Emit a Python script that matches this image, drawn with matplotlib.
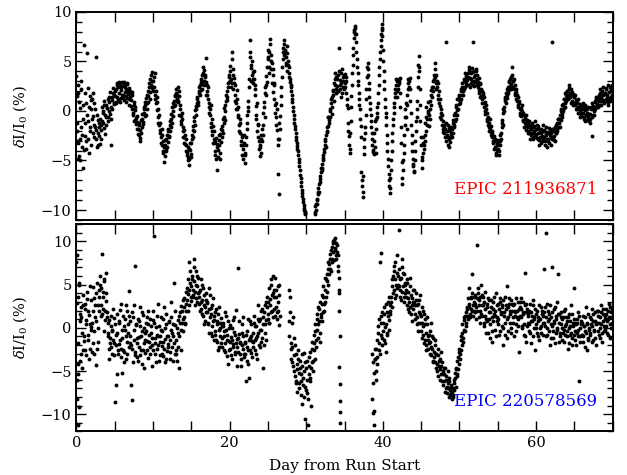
"""
K2 light curves - EPIC 211936871 / EPIC 220578569
"""

import numpy as np
import matplotlib
matplotlib.use('Agg')
import matplotlib.pyplot as plt
from matplotlib.ticker import MultipleLocator

# ══════════════════════════════════════════════
# 1. DATA  (one row = one day, 10 samples at 0.1 d;
#           the "b" rows sit 0.05 d later)
# ══════════════════════════════════════════════

N = None

top_rows = [
    [3.5, -1.2, 1.8, -4.5, 0.3, -2.8, 2.2, -3.6, -0.8, -5.8],
    [6.7, -2.5, 0.8, -3.8, 5.8, -1.0, -4.2, 1.5, -2.0, 0.2],
    [1.2, -0.5, -2.2, 0.8, -1.6, 5.4, -2.8, -0.4, -3.4, -1.2],
    [-2.5, -0.8, -1.9, 0.4, -1.2, -0.2, 1.0, -2.3, 0.6, -0.6],
    [0.3, -1.0, 0.9, 1.4, -0.3, -3.4, 1.1, 0.2, 1.8, 0.7],
    [1.5, 2.2, 0.8, 2.6, 1.2, 2.9, 1.8, 0.9, 2.4, 1.6],
    [2.5, 1.4, 2.9, 1.9, 2.2, 0.9, 2.7, 1.7, 2.3, 1.2],
    [2.0, 1.1, 0.2, 1.6, -0.4, 0.6, -0.9, 0.1, -1.3, -0.5],
    [-1.8, -2.4, -1.2, -2.7, -0.9, -1.6, -0.3, -1.1, 0.4, -0.5],
    [0.6, 1.3, 0.2, 2.0, 1.5, 2.8, 1.9, 3.6, 2.3, 3.9],
    [3.0, 2.4, 3.8, 1.6, 0.8, 1.4, -0.6, 0.2, -1.4, -1.9],
    [-2.6, -1.8, -3.4, -4.2, -3.6, -4.5, -2.9, -3.8, -2.4, -3.1],
    [-1.8, -2.5, -1.0, -1.6, -0.3, 0.4, -0.5, 1.0, 0.6, 1.5],
    [1.8, 1.2, 2.4, 0.9, 1.5, 0.2, -0.5, -1.3, -0.8, -2.0],
    [-2.6, -1.9, -3.3, -2.8, -4.1, -3.6, -4.6, -5.5, -3.9, -4.3],
    [-3.2, -2.4, -1.5, -2.0, -0.6, 0.1, -0.4, 0.8, 1.4, 0.9],
    [1.8, 2.6, 2.1, 3.2, 2.7, 3.8, 3.0, 4.1, 3.4, 5.3],
    [2.6, 2.0, 1.2, 0.4, -0.4, 0.6, -1.2, -2.0, -1.5, -2.8],
    [-3.2, -4.4, -2.7, -3.6, -6.0, -3.9, -2.9, -4.2, -2.3, -3.1],
    [-1.5, -2.2, -0.6, 0.3, -0.9, 1.0, 2.0, 1.4, 2.8, 3.4],
    [3.0, 4.5, 2.4, 5.9, 3.6, 2.2, 3.3, 1.6, 0.8, 2.1],
    [0.2, -0.6, -1.4, -0.8, -2.2, -3.0, -2.4, -3.8, -4.8, -3.2],
    [-5.3, -3.4, -1.8, -0.4, 1.0, 2.4, 7.2, 6.0, 4.3, 3.6],
    [3.9, 2.8, 3.2, 1.6, 0.5, -0.8, -2.0, -1.3, -3.0, -4.5],
    [-3.6, -2.4, -3.0, -1.4, -0.2, 0.9, 1.8, 2.6, 3.5, 4.4],
    [5.2, 6.0, 3.8, 7.3, 5.6, 4.8, 3.6, 1.9, 2.8, 0.6],
    [-0.6, 0.8, -1.9, -6.4, -8.4, -2.8, -0.5, 1.5, 3.4, 5.2],
    [6.4, 7.2, 6.0, 5.4, 4.8, 6.6, 5.0, 3.8, 4.4, 2.9],
    [2.4, 1.6, 0.9, 0.0, -0.8, -1.5, -2.2, -2.9, -3.5, -4.0],
    [-4.8, -5.6, -6.5, -7.2, -8.0, -8.6, -9.2, -9.8, -10.2, -10.4],
    [N, N, N, N, N, N, N, N, N, N],
    [N, -10.2, -9.6, -10.0, -8.9, -8.4, -7.8, -8.2, -6.9, -6.2],
    [-5.4, -6.0, -4.7, -4.1, -3.4, -2.8, -3.6, -2.1, -1.5, -0.6],
    [-0.9, 0.2, 0.8, -0.3, 1.4, 2.1, 1.0, 2.6, 3.2, 1.8],
    [2.5, 3.6, 2.0, 6.4, 3.1, 1.4, 2.8, 4.2, 3.4, 2.2],
    [3.7, 2.4, 3.0, 1.2, 0.3, -1.2, -2.5, -3.8, -1.0, 1.5],
    [3.8, 5.6, 7.4, 8.2, 8.6, 7.0, 5.2, 3.8, 2.6, 1.2],
    [0.2, -1.5, -6.2, -7.6, -8.7, -2.8, -4.3, -1.6, 1.2, 3.4],
    [4.8, 3.6, 2.2, 0.8, -0.4, -1.6, -2.8, -3.9, -4.3, -2.2],
    [-3.6, -1.8, 0.4, -0.6, 1.8, 3.6, 5.2, 6.6, 7.8, 8.8],
    [6.2, 4.0, 2.2, 0.4, -0.6, -2.4, -4.0, -5.6, -7.0, -8.3],
    [-6.8, -5.0, -3.0, -1.4, -0.2, 0.8, 1.8, 2.6, 1.4, 3.0],
    [2.2, 3.2, 3.3, 0.4, -3.2, -7.4, -6.0, -4.2, -2.4, -0.6],
    [0.8, -1.8, 1.6, 2.8, 3.0, 3.3, 1.0, -1.4, -3.2, -4.8],
    [-5.6, -6.1, -4.0, -2.0, 0.2, 1.0, 3.4, 5.5, 2.2, -1.0],
    [-3.4, -5.8, -4.2, -2.6, -3.8, -1.2, -2.0, 0.4, -0.8, 0.9],
    [-1.5, 0.2, 1.0, 2.1, 1.4, 3.0, 2.4, 3.6, 4.8, 2.8],
    [3.6, 2.4, 1.2, 2.0, 0.5, -0.6, 0.2, -1.4, -1.0, -2.1],
    [-1.6, -2.6, -1.2, 7.0, -2.0, -3.4, -2.8, -1.7, -3.1, -2.3],
    [-1.8, -2.2, -0.9, -1.4, -0.2, -0.8, 0.6, 0.1, 1.2, 0.7],
    [1.5, 1.0, 2.2, 1.6, 2.8, 2.0, 3.2, 2.4, 3.5, 2.6],
    [3.1, 3.8, 2.6, 4.1, 3.3, 2.8, 3.9, 3.0, 7.0, 2.5],
    [3.6, 2.9, 4.0, 3.2, 2.4, 3.3, 2.1, 2.7, 1.5, 2.0],
    [1.2, 1.8, 0.4, 0.9, -0.3, 0.2, -1.0, -0.6, -1.6, -1.2],
    [-2.0, -1.5, -2.6, -2.2, -3.0, -2.5, -3.6, -2.8, -4.2, -3.3],
    [-3.8, -2.9, -4.4, -3.0, -2.2, -1.6, -0.9, -0.2, 0.4, 1.0],
    [1.2, 1.8, 1.3, 2.4, 2.0, 2.9, 2.5, 3.4, 2.7, 4.4],
    [3.0, 2.2, 2.6, 1.6, 1.9, 1.0, 1.4, 0.4, 0.8, -0.2],
    [0.3, -0.5, 0.0, -0.9, -0.4, -1.2, -0.7, -1.5, -0.9, -1.6],
    [-1.3, -2.0, -1.5, -2.4, -1.8, -1.2, -2.6, -2.0, -1.5, -2.3],
    [-1.8, -2.7, -2.2, -1.5, -2.9, -2.1, -3.2, -1.8, -2.5, -2.0],
    [-2.6, -1.9, -3.0, -2.3, -3.6, -2.1, -2.8, -1.7, -2.4, -3.4],
    [-2.2, 7.0, -1.8, -2.9, -2.5, -1.6, -2.2, -1.2, -1.8, -0.8],
    [-1.2, -0.4, -0.9, 0.2, -0.3, 0.7, 0.3, 1.2, 0.8, 1.6],
    [1.3, 2.0, 1.6, 2.3, 1.8, 1.4, 2.2, 1.0, 1.7, 0.8],
    [1.4, 0.6, 1.1, 0.2, 0.9, 0.4, -0.2, 0.7, 0.1, -0.5],
    [0.5, -0.2, 0.3, -0.8, 0.1, -0.4, -0.9, 0.2, -0.6, -0.3],
    [-0.3, -0.8, 0.2, -2.5, -0.4, 0.5, 0.0, 0.9, 0.4, 1.2],
    [0.7, 1.4, 1.0, 1.8, 0.6, 1.3, 2.0, 1.1, 1.6, 0.9],
    [1.8, 1.2, 2.3, 1.5, 0.9, 1.9, 2.4, 1.3, 2.0, 1.6],
]

top_rows_b = [
    [-2.0, 2.6, -3.2, 0.9, -5.0, -1.6, 3.0, -2.4, 0.6, -3.9],
    [-1.2, 1.8, -3.0, -0.4, 2.3, -2.8, 0.4, -1.6, 1.1, -3.4],
    [-0.8, 1.8, -1.4, -2.6, 0.2, -1.9, -3.6, -0.9, -2.2, -1.6],
    [-3.3, -1.4, -2.8, -1.0, 0.0, -1.7, 0.6, -0.4, -1.4, 0.3],
    [-0.6, 1.2, 0.0, 1.9, 0.4, -0.8, 1.4, 2.3, 0.8, 1.6],
    [2.0, 0.9, 2.8, 1.4, 2.4, 1.0, 2.6, 2.1, 1.3, 2.9],
    [1.6, 2.6, 1.1, 2.4, 1.5, 2.8, 1.3, 2.0, 0.6, 1.8],
    [1.4, 0.5, 1.9, -0.2, 0.9, -1.0, 0.4, -0.7, -1.8, -1.1],
    [-2.3, -1.4, -3.0, -1.9, -2.2, -0.8, -1.3, 0.2, -0.2, 0.9],
    [-0.4, 0.8, 1.6, 0.9, 2.4, 1.2, 3.2, 2.6, 3.0, 2.0],
    [2.4, 3.4, 1.2, 2.0, 0.1, 0.9, -1.2, -0.4, -2.2, -1.2],
    [-3.2, -2.4, -4.0, -3.0, -5.2, -3.4, -4.0, -2.8, -3.6, -2.0],
    [-2.6, -1.4, -2.0, -0.8, -1.2, 0.8, 0.0, 0.5, 1.6, 1.0],
    [2.2, 1.6, 1.0, 2.0, -0.4, 0.6, -1.0, -0.2, -1.6, -2.6],
    [-3.2, -2.4, -4.0, -3.4, -4.4, -5.0, -3.8, -4.8, -3.2, -4.6],
    [-2.8, -1.9, -2.6, -1.0, -1.4, 0.5, 0.2, 1.2, 0.6, 2.0],
    [2.4, 1.6, 2.9, 3.6, 2.2, 4.4, 2.6, 3.6, 2.9, 1.6],
    [1.6, 2.4, 0.8, -0.2, 0.2, -1.6, -0.8, -2.4, -3.2, -2.0],
    [-4.0, -3.0, -4.8, -3.3, -4.6, -2.4, -3.4, -4.8, -1.8, -2.6],
    [-1.9, -0.8, -1.2, 0.6, 0.0, 1.6, 1.1, 2.4, 3.6, 2.9],
    [4.0, 3.2, 5.2, 2.8, 4.2, 2.8, 1.0, 2.6, 0.2, 1.2],
    [-0.4, 0.4, -2.0, -1.2, -3.4, -2.6, -4.4, -3.4, -2.4, -4.2],
    [-4.4, -2.6, -1.2, 0.4, 0.0, 3.2, 5.4, 4.6, 3.0, 5.0],
    [3.2, 4.0, 2.2, 2.6, -0.4, 0.8, -1.4, -2.6, -3.8, -3.4],
    [-4.2, -2.8, -1.8, -2.4, 0.4, -0.6, 2.4, 1.6, 2.9, 5.4],
    [6.2, 4.4, 6.8, 4.2, 5.0, 2.8, 4.2, 2.6, 1.2, -0.2],
    [-1.4, 0.2, -2.8, -3.4, -1.2, -1.8, 0.6, 2.4, 4.4, 6.0],
    [6.8, 5.6, 6.2, 4.6, 5.8, 4.0, 4.6, 3.4, 3.2, 2.6],
    [2.0, 1.2, 0.4, -0.4, -1.2, -1.8, -2.6, -3.2, -3.8, -4.4],
    [-5.2, -6.0, -6.8, -7.6, -8.3, -8.9, -9.5, -10.0, -10.3, N],
    [N, N, N, N, N, N, N, N, N, N],
    [N, -10.4, -9.4, -9.0, -9.4, -8.2, -7.4, -7.2, -6.6, -5.8],
    [-5.8, -5.0, -4.4, -3.8, -3.0, -2.4, -2.0, -1.6, -0.6, -1.2],
    [0.0, -0.6, 1.2, 0.4, 2.0, 1.6, 2.8, 3.8, 2.2, 3.4],
    [3.2, 2.0, 4.0, 2.6, 2.2, 3.8, 1.8, 3.0, 2.4, 3.6],
    [2.8, 3.4, 1.8, 0.6, -2.0, -3.4, -4.2, -2.2, 0.4, 2.6],
    [4.6, 6.4, 8.0, 8.4, 7.8, 6.0, 4.4, 3.0, 1.8, 0.6],
    [-0.8, -2.6, -7.0, -8.2, -6.6, -3.6, -2.2, -0.4, 2.2, 4.4],
    [4.2, 2.8, 1.4, 0.2, -1.0, -2.2, -3.4, -4.1, -3.0, -1.0],
    [-4.2, -0.8, -0.2, 0.8, 2.6, 4.4, 6.0, 7.2, 8.4, 7.6],
    [5.0, 3.0, 1.2, -0.2, -1.4, -3.2, -4.8, -6.4, -7.6, -7.8],
    [-6.0, -4.0, -2.2, -0.8, 0.4, 1.4, 2.2, 3.2, 2.0, 2.6],
    [2.8, 3.0, 1.8, -1.6, -5.2, -6.8, -5.0, -3.4, -1.4, 0.2],
    [-0.6, 0.6, 2.2, 3.2, 2.4, 2.2, -0.2, -2.4, -4.0, -5.4],
    [-6.2, -5.0, -3.0, -1.0, -0.6, 2.4, 4.6, 4.0, 0.6, -2.6],
    [-4.6, -5.0, -3.2, -3.4, -2.4, -3.0, -0.6, -1.4, 0.0, -0.2],
    [-0.4, -0.8, 1.6, 0.6, 2.4, 2.0, 3.2, 4.2, 3.4, 2.2],
    [3.0, 1.6, 2.8, 0.8, 1.2, -0.2, -0.8, -0.4, -1.8, -1.4],
    [-2.2, -1.8, -3.0, -2.4, -1.4, -2.6, -3.6, -2.0, -2.6, -1.6],
    [-2.6, -1.2, -1.6, -0.4, -1.0, 0.4, -0.4, 1.2, 0.2, 1.6],
    [0.8, 2.0, 1.2, 2.4, 1.6, 3.0, 2.2, 3.8, 2.8, 3.4],
    [2.6, 3.4, 4.4, 2.4, 3.8, 3.2, 4.3, 2.6, 3.4, 4.0],
    [3.0, 4.2, 2.6, 3.6, 2.9, 1.8, 2.8, 1.4, 2.2, 0.8],
    [1.6, 0.8, 1.4, 0.0, 0.6, -0.8, -0.2, -1.4, -2.0, -0.8],
    [-1.8, -2.4, -2.0, -3.2, -2.6, -3.8, -3.0, -4.4, -3.4, -3.9],
    [-3.2, -4.0, -3.4, -2.4, -2.8, -1.2, -1.4, 0.2, 0.0, 1.4],
    [0.8, 2.2, 1.6, 1.8, 3.0, 2.2, 3.2, 2.2, 3.6, 3.0],
    [2.4, 3.2, 1.8, 2.2, 1.2, 1.6, 0.6, 1.0, -0.4, 0.2],
    [-0.2, 0.6, -1.0, -0.2, -1.6, -0.8, -1.9, -0.4, -1.2, -2.2],
    [-2.2, -1.0, -2.8, -1.4, -2.2, -2.8, -1.6, -2.6, -1.0, -1.8],
    [-2.4, -1.4, -2.8, -3.4, -1.8, -2.6, -2.2, -3.0, -1.4, -2.8],
    [-2.0, -3.4, -2.4, -1.6, -2.8, -3.0, -2.2, -3.2, -2.0, -2.6],
    [-2.8, -1.8, -2.6, -2.0, -3.0, -2.2, -1.4, -2.0, -0.8, -1.6],
    [-0.8, -1.6, 0.0, -0.6, 0.6, 0.0, 1.2, 0.4, 1.8, 1.0],
    [2.0, 1.2, 2.6, 1.4, 2.2, 0.8, 1.6, 1.9, 0.6, 1.4],
    [0.8, 1.6, 0.2, 0.8, -0.2, 1.2, 0.4, -0.6, 0.6, -0.2],
    [0.2, 0.8, -0.6, 0.6, -1.0, 0.4, -0.2, -0.8, 0.4, -1.0],
    [-1.2, 0.4, -0.6, 0.8, 0.2, -0.4, 1.0, 0.2, 1.4, 0.6],
    [1.2, 0.4, 1.6, 2.2, 1.0, 0.6, 1.6, 2.4, 0.8, 1.8],
    [1.0, 2.2, 1.6, 0.6, 2.6, 1.2, 1.0, 2.2, 1.4, 2.6],
]

bot_rows = [
    [7.6, 2.9, -4.2, -9.2, 1.6, -3.8, 2.4, -0.6, 3.8, -2.6],
    [-1.5, 2.2, 0.4, -3.2, 3.3, -0.8, 1.5, -2.4, 4.9, 0.1],
    [-2.8, 1.9, 4.7, -0.4, 2.6, -4.3, 0.8, 5.2, -1.6, 2.0],
    [3.6, 6.0, 1.4, 8.6, 4.2, 2.2, 5.6, 0.9, 3.1, 6.4],
    [1.8, -0.6, -2.4, 0.9, -1.8, 0.2, -3.0, -0.2, -1.4, 1.1],
    [-8.6, -0.8, -6.6, -5.4, -2.6, 0.6, -1.9, 2.1, -3.4, -5.2],
    [-1.2, 1.4, -2.8, -0.3, 2.6, -3.6, -1.6, 0.4, -2.2, 4.3],
    [-0.9, -6.6, -8.3, -2.4, 1.2, -1.4, -3.1, 7.2, 0.3, -1.8],
    [-3.8, 0.8, -1.1, 2.4, -2.6, -0.4, -4.2, 1.5, -1.7, -0.6],
    [-2.9, 0.6, -1.5, -3.5, 1.9, -0.8, -2.2, 0.2, -4.4, -1.2],
    [0.9, 10.6, -1.8, -3.0, 0.1, -2.4, 2.8, -0.9, -3.8, -1.6],
    [1.3, -2.1, -0.4, -3.3, 2.4, -1.3, -4.0, 0.5, -2.7, -0.9],
    [-1.9, 0.7, -3.6, -0.2, 3.0, -2.2, -1.0, 5.2, -3.0, 0.3],
    [-1.4, -3.8, 0.9, -0.6, -4.6, 1.8, -0.2, 2.5, 0.6, 3.2],
    [1.2, 3.5, 0.4, 2.8, 4.6, 1.9, 3.9, 7.6, 5.2, 3.1],
    [4.8, 6.0, 3.6, 8.0, 5.4, 4.2, 6.6, 3.0, 4.9, 5.8],
    [3.6, 4.4, 2.2, 3.0, 5.0, 1.4, 3.8, 2.6, 0.8, 3.2],
    [1.8, 2.9, 0.5, 4.6, 1.2, -0.6, 2.3, 0.2, 3.4, -1.4],
    [0.9, -0.8, 2.2, -1.6, 0.4, 1.6, -2.2, 0.0, -0.9, 1.1],
    [-1.2, 0.6, -2.6, -0.4, -1.8, 1.4, -3.3, -0.8, -4.2, -1.5],
    [0.3, -2.4, -1.1, -3.6, 0.9, -1.9, -0.5, -2.8, 2.1, -1.3],
    [-2.2, 6.9, -0.7, -3.0, -1.6, -4.4, 0.4, -2.5, -1.0, -3.4],
    [-1.8, -6.1, -0.4, -3.8, -2.6, -5.8, -1.2, 0.8, -2.9, -1.5],
    [-0.6, -2.2, 1.4, -1.4, -3.0, 0.2, -0.9, 2.6, -2.0, -0.3],
    [1.0, -1.6, 2.2, 0.4, -4.6, 1.8, -0.6, 3.0, 0.9, 2.4],
    [1.6, 4.6, 0.6, 3.3, 5.6, 2.0, 4.0, 1.2, 3.6, 5.8],
    [2.4, 4.4, 1.0, 3.0, 0.3, 5.0, N, N, N, N],
    [N, N, N, N, N, N, N, 4.4, -1.0, 1.8],
    [-3.6, 0.6, -2.2, -4.4, -1.2, -5.6, -3.0, -6.4, -4.8, -2.6],
    [-5.2, -7.0, -3.8, -6.2, -4.4, -8.8, -5.8, -2.9, -6.8, -10.6],
    [-4.6, -7.6, -11.2, -5.4, -3.4, -6.2, -9.0, -4.0, -2.4, -5.0],
    [-1.8, -3.6, -0.4, -2.2, 1.0, -1.2, 0.4, 2.2, -0.6, 1.6],
    [2.8, 0.8, 3.6, 2.0, 4.4, 3.0, 5.6, 4.2, 6.8, 5.0],
    [7.4, 8.6, 6.6, 9.4, 8.0, 10.0, 7.8, 9.0, 10.4, 8.4],
    [9.6, 8.4, 7.2, 5.8, N, N, N, N, N, N],
    [N, N, N, N, N, N, N, N, N, N],
    [N, N, N, N, N, N, N, N, N, N],
    [N, N, N, N, N, N, N, N, N, N],
    [N, N, N, N, N, N, -8.2, -9.9, -5.2, -11.2],
    [-3.6, -6.0, -1.4, -4.2, 0.2, -2.6, 7.6, -0.8, 1.4, -2.0],
    [0.6, -1.4, 2.4, 0.1, -2.8, 1.8, -0.6, 3.0, 0.9, 2.0],
    [1.6, 3.6, 5.6, 4.0, 6.6, 7.2, 3.4, 5.0, 8.4, 4.6],
    [6.0, 11.3, 4.4, 5.6, 3.2, 7.0, 4.8, 6.2, 3.6, 5.2],
    [4.4, 2.6, 5.6, 3.4, 1.8, 4.8, 2.4, 3.8, 0.8, 3.0],
    [2.2, 4.4, 1.0, 3.2, 0.4, 2.6, -0.4, 1.8, 3.8, 0.6],
    [1.4, -1.2, 2.0, 0.2, -1.8, 1.0, -0.6, -2.6, 0.4, -1.4],
    [-0.8, -3.0, -1.6, 0.6, -2.4, -4.0, -1.2, -3.4, -2.0, -4.6],
    [-3.0, -5.0, -2.4, -4.4, -6.0, -3.6, -5.4, -4.0, -6.6, -5.0],
    [-6.2, -4.6, -7.0, -5.6, -7.6, -6.4, -8.0, -5.8, -7.2, -6.6],
    [-8.2, -7.0, -7.8, -6.4, -5.2, -6.8, -4.6, -5.6, -3.4, -4.2],
    [-2.4, -3.6, -1.0, -2.0, 0.4, -1.6, 0.9, -0.4, 1.8, 0.6],
    [2.2, 1.0, 2.8, 4.6, 1.6, 3.4, 2.0, 6.2, 2.6, 3.0],
    [1.8, 3.8, 2.4, 9.6, 4.0, 1.2, 3.2, 2.0, 5.0, 2.6],
    [1.4, 3.6, 0.6, 2.2, 4.2, 1.0, 2.8, -0.6, 1.8, 3.2],
    [0.4, 2.4, 1.2, -1.6, 3.0, 1.6, -0.2, 2.0, 4.0, 0.8],
    [2.8, 1.0, -0.8, 3.4, 1.8, 0.2, 2.4, -2.0, 1.4, 3.6],
    [0.6, 2.2, 4.8, 1.2, -0.4, 2.8, 1.6, 3.2, 0.0, 1.9],
    [2.6, -1.0, 1.4, 2.0, 0.4, 2.0, 3.0, 1.0, -2.8, 2.4],
    [1.2, 3.4, 0.2, 1.8, -0.8, 2.6, 6.3, -1.6, 2.2, 0.6],
    [1.6, -0.4, 2.8, 0.8, -1.8, 1.4, 3.2, 0.0, 1.0, -2.6],
    [0.4, 2.0, -1.0, 1.2, 1.0, 0.0, 2.4, -0.6, 1.6, 0.6],
    [6.8, 1.8, 0.2, 11.0, 2.8, -0.8, 0.8, 1.6, -2.0, 0.4],
    [1.2, 7.0, -0.4, 2.2, 0.6, -1.8, 1.4, 3.0, -0.2, 6.2],
    [1.6, -1.0, 0.4, 1.2, 1.0, -0.6, 2.0, -1.6, 0.2, 1.2],
    [-0.4, 0.8, -2.4, 1.6, -0.8, 0.2, 2.6, -1.2, 0.6, 4.6],
    [1.0, -1.4, 0.4, 0.6, -0.6, 1.8, -6.1, 0.0, -1.0, 0.8],
    [-0.8, 1.4, -1.6, 0.2, -0.4, 2.4, -2.6, 0.6, -1.2, 0.0],
    [1.2, -0.6, 0.4, 2.2, -1.4, 0.8, -0.2, 1.8, -2.0, 0.4],
    [0.6, 2.0, -0.8, 1.2, 0.0, 2.6, -1.6, 0.8, 1.6, -0.4],
    [1.4, 0.2, 2.2, -0.6, 1.0, 2.8, 0.4, -1.2, 1.8, 0.6],
]

bot_rows_b = [
    [-6.0, 3.6, -1.8, 5.2, 0.8, -3.0, 1.2, -4.6, 2.6, -1.0],
    [2.8, -2.6, 0.9, 4.2, -1.4, 2.0, -3.6, 0.4, -0.2, 3.2],
    [0.6, -1.8, 3.4, -3.0, 1.2, 4.0, -2.4, 2.6, 0.0, 4.4],
    [5.0, 2.6, 4.6, 1.6, 3.6, -0.4, 5.4, 2.0, 4.0, 1.2],
    [-1.0, 0.6, -3.6, -1.2, 1.4, -2.2, -0.4, 2.2, -1.8, -3.2],
    [0.4, -2.0, 1.6, -0.6, -3.0, 0.8, -1.4, 2.8, -2.4, -0.2],
    [-2.6, 0.2, -4.0, 1.0, -1.0, 2.0, -3.0, -0.6, 1.4, -1.8],
    [0.8, -2.0, 1.8, -4.0, -0.2, 2.6, -2.8, 0.4, -1.2, -3.4],
    [1.0, -2.2, 0.2, -3.2, -1.0, 1.8, -2.6, 0.0, -4.6, -1.4],
    [-0.4, 1.2, -2.6, 0.4, -1.6, -3.0, 1.0, -0.6, -2.0, 2.0],
    [-2.6, 0.6, -1.2, -4.0, 1.4, -0.8, -2.0, 0.2, -3.2, -1.0],
    [-0.2, -3.0, 1.0, -1.6, -2.4, 0.0, -3.6, 1.6, -1.0, -2.2],
    [0.8, -1.4, -2.8, 1.2, -0.6, -3.8, 0.4, -1.8, 2.0, -2.6],
    [-3.0, 0.0, -2.2, 1.4, -1.0, 0.6, -2.6, 2.0, -0.4, 1.0],
    [2.4, 0.6, 4.2, 2.0, 3.2, 5.6, 2.6, 4.4, 6.6, 3.6],
    [5.6, 3.8, 4.4, 7.0, 2.6, 5.0, 3.4, 6.0, 4.0, 2.8],
    [4.2, 2.0, 5.6, 1.6, 3.2, 4.6, 0.4, 2.4, 4.0, 1.8],
    [3.0, 0.6, 2.2, -0.6, 3.8, 1.6, -1.0, 2.6, 0.8, 1.4],
    [-0.4, 1.8, -1.4, 0.8, -2.6, 2.4, -0.2, 0.6, -1.8, 0.2],
    [-2.2, 0.2, -1.0, 1.8, -2.8, -0.2, -1.4, 0.8, -2.6, 0.0],
    [-1.6, -3.2, 0.0, -1.4, -2.2, 1.2, -3.0, -0.8, -1.8, -4.4],
    [-1.2, -2.8, 0.8, -1.8, -3.6, -0.6, -2.0, 1.2, -3.0, -1.6],
    [-3.0, -0.8, -2.2, 1.0, -4.2, -1.4, -2.6, 0.4, -1.0, -3.4],
    [-1.6, 0.6, -2.6, 0.2, -1.2, -3.6, 1.0, -0.6, 0.8, -2.2],
    [-0.2, 2.0, -1.2, 1.2, -2.0, 2.6, 0.4, -1.4, 3.6, 1.0],
    [3.0, 0.6, 2.6, 5.0, 1.8, 3.8, 6.0, 2.2, 4.4, 1.4],
    [3.6, 1.8, 4.8, 2.0, 3.8, 1.4, N, N, N, N],
    [N, N, N, N, N, N, N, 0.8, 3.6, -2.4],
    [-1.8, -4.0, 1.2, -3.2, -5.0, -2.0, -6.2, -4.2, -7.4, -3.6],
    [-6.4, -4.6, -7.8, -5.4, -3.0, -6.6, -8.0, -5.0, -4.0, -7.2],
    [-6.0, -3.8, -8.2, -4.4, -5.8, -2.8, -4.6, -1.6, -3.8, -0.8],
    [-2.6, 0.4, -1.4, 1.6, -0.2, 2.4, 0.8, -1.6, 3.0, 1.2],
    [3.8, 1.8, 4.8, 2.8, 5.8, 3.6, 6.2, 5.4, 7.6, 6.2],
    [8.0, 6.8, 9.0, 7.6, 9.8, 8.8, 10.2, 9.2, 8.0, 9.8],
    [8.8, 6.6, 4.0, N, N, N, N, N, N, N],
    [N, N, N, N, N, N, N, N, N, N],
    [N, N, N, N, N, N, N, N, N, N],
    [N, N, N, N, N, N, N, N, N, N],
    [N, N, N, N, N, N, -3.0, -6.4, -9.6, -3.6],
    [-5.0, -2.4, -3.4, -0.6, -1.8, 1.0, -3.0, 0.6, -1.2, 1.8],
    [-0.4, 1.6, -1.8, 2.8, 0.4, -0.8, 1.4, 3.6, -0.2, 2.6],
    [3.0, 4.8, 2.4, 6.0, 4.4, 5.6, 7.6, 3.8, 6.4, 5.0],
    [4.8, 6.8, 3.6, 5.8, 8.0, 4.2, 6.4, 3.0, 5.0, 4.0],
    [3.6, 5.2, 2.2, 4.2, 3.0, 5.8, 1.6, 3.4, 2.6, 4.4],
    [3.0, 1.6, 2.6, 4.0, 1.2, 2.8, 0.6, 3.2, 1.6, -0.4],
    [0.6, 2.4, -0.8, 1.6, -1.4, 0.4, -2.0, 1.2, -1.0, -2.4],
    [-1.8, -0.4, -3.2, -2.2, -1.0, -3.8, -2.8, -1.4, -4.0, -3.0],
    [-4.2, -3.2, -5.6, -3.8, -4.8, -2.8, -4.4, -6.2, -5.4, -4.6],
    [-5.4, -7.4, -6.0, -6.8, -5.0, -7.0, -6.2, -7.8, -6.8, -7.6],
    [-7.4, -8.0, -6.0, -7.2, -5.8, -4.8, -5.4, -3.8, -4.8, -2.8],
    [-3.0, -1.4, -2.6, -0.6, -1.2, 1.2, -0.2, 1.4, 0.2, 2.4],
    [1.4, 3.4, 2.4, 1.2, 3.6, 2.2, 4.0, 1.4, 3.6, 2.0],
    [2.8, 1.0, 3.4, 2.0, 4.6, 2.6, 0.6, 3.6, 1.6, 3.8],
    [2.6, 0.2, 3.0, 1.4, -0.6, 2.4, 0.8, 3.4, 1.0, -1.2],
    [1.8, 3.2, -0.4, 2.2, 0.8, 3.6, 1.4, -1.0, 2.6, 1.2],
    [0.4, 2.2, 3.0, -0.4, 1.6, 2.6, 0.0, 3.2, 1.8, -0.8],
    [2.6, 1.0, -1.2, 2.4, 3.4, 0.6, 2.0, -0.6, 2.8, 1.2],
    [0.6, 2.8, 1.8, -0.4, 3.4, 1.2, 0.2, 2.2, 1.4, 3.0],
    [2.2, 0.0, 1.6, 3.0, 0.4, -1.0, 1.8, 2.8, 0.2, 1.4],
    [0.4, 2.0, -0.6, 1.8, 0.8, 2.6, -1.0, 1.2, 2.2, 0.0],
    [1.6, -0.6, 0.8, 2.6, -1.4, 1.0, 0.2, 2.0, -0.8, 1.4],
    [0.6, 2.4, -1.0, 1.2, 0.0, 2.0, -0.4, 1.0, 2.6, -1.2],
    [0.2, 1.8, -1.2, 0.8, 2.4, -0.6, 1.0, 0.0, 1.6, -1.6],
    [0.6, -0.6, 1.8, 0.0, -1.4, 1.2, -0.2, 2.2, -0.8, 0.4],
    [-1.0, 1.2, 0.0, -1.8, 0.8, -0.6, 1.6, -2.0, 0.2, -0.8],
    [-0.4, 0.6, -2.0, 1.0, -1.0, -0.2, 1.4, -1.6, 0.4, -0.8],
    [0.6, -1.0, 0.2, -2.2, 1.2, -0.6, 0.4, -1.4, 1.6, -0.2],
    [-0.8, 1.0, -1.6, 0.2, 1.6, -0.4, 0.8, -1.2, 0.6, 2.0],
    [1.4, -0.4, 0.6, -1.2, 1.8, 0.4, -0.6, 2.2, 0.2, 1.0],
    [-0.2, 1.6, 0.8, 2.0, -0.8, 1.2, 2.4, 0.0, 1.2, 2.2],
]

# isolated points (vertical streaks, outliers) not on the 0.1 d grid
top_extra_t = [0.02, 0.12, 0.22, 36.42, 39.87, 44.67]
top_extra_y = [-3.0, 1.5, -4.8, 7.8, 8.2, 4.4]

bot_extra_t = [0.02, 0.12, 0.17, 0.22, 0.32, 34.28, 34.3, 34.32, 34.35,
               34.38, 34.4, 34.42, 34.45, 38.72, 38.92, 39.82]
bot_extra_y = [8.4, -8.2, -11.2, -5.4, 5.0, 4.4, 2.0, -4.5, -1.0,
               -6.5, -8.5, -9.8, -11.0, -4.0, -2.4, 8.7]

LABEL_TOP = 'EPIC 211936871'
LABEL_BOT = 'EPIC 220578569'


def serie(row_sets, extra_t, extra_y):
    ts, ys = [extra_t], [extra_y]
    for rows, off in row_sets:
        ys.append([np.nan if v is None else v for r in rows for v in r])
        ts.append(np.repeat(np.arange(len(rows)), 10)
                  + np.tile(np.arange(10) * 0.1, len(rows)) + off)
    return np.concatenate(ts), np.concatenate(ys)


t_top, y_top = serie([(top_rows, 0.0), (top_rows_b, 0.05)], top_extra_t, top_extra_y)
t_bot, y_bot = serie([(bot_rows, 0.0), (bot_rows_b, 0.05)], bot_extra_t, bot_extra_y)

# ══════════════════════════════════════════════
# 2. GRAFICO
# ══════════════════════════════════════════════

plt.rcParams['font.family'] = 'DejaVu Serif'
plt.rcParams['mathtext.fontset'] = 'dejavuserif'

fig = plt.figure(figsize=(6.27, 4.75), dpi=100)
ax1 = fig.add_axes([0.122, 0.537, 0.855, 0.438])
ax2 = fig.add_axes([0.122, 0.0916, 0.855, 0.4364])

for ax, t, y, lab, col, ylim in [(ax1, t_top, y_top, LABEL_TOP, 'red', (-11, 10)),
                                 (ax2, t_bot, y_bot, LABEL_BOT, 'blue', (-12, 12))]:
    ax.plot(t, y, 'o', color='black', ms=2.8, mec='none')
    ax.set_xlim(0, 70)
    ax.set_ylim(*ylim)
    ax.xaxis.set_major_locator(MultipleLocator(20))
    ax.xaxis.set_minor_locator(MultipleLocator(5))
    ax.yaxis.set_major_locator(MultipleLocator(5))
    ax.yaxis.set_minor_locator(MultipleLocator(1))
    ax.tick_params(which='both', direction='in', top=True, right=True,
                   width=1.0, labelsize=10.5)
    ax.tick_params(which='major', length=7)
    ax.tick_params(axis='y', which='minor', length=4)
    ax.tick_params(axis='x', which='minor', length=7)
    for s in ax.spines.values():
        s.set_linewidth(1.4)
    ax.set_ylabel(r'$\delta$I/I$_0$ (%)', fontsize=10.5)
    ax.yaxis.set_label_coords(-0.089, 0.5)
    ax.text(0.971, 0.144, lab, color=col, fontsize=12, ha='right', va='center',
            transform=ax.transAxes)

ax1.tick_params(labelbottom=False)
ax2.set_xlabel('Day from Run Start', fontsize=11)
ax2.xaxis.set_label_coords(0.5, -0.135)

fig.savefig('out.png', dpi=100)
